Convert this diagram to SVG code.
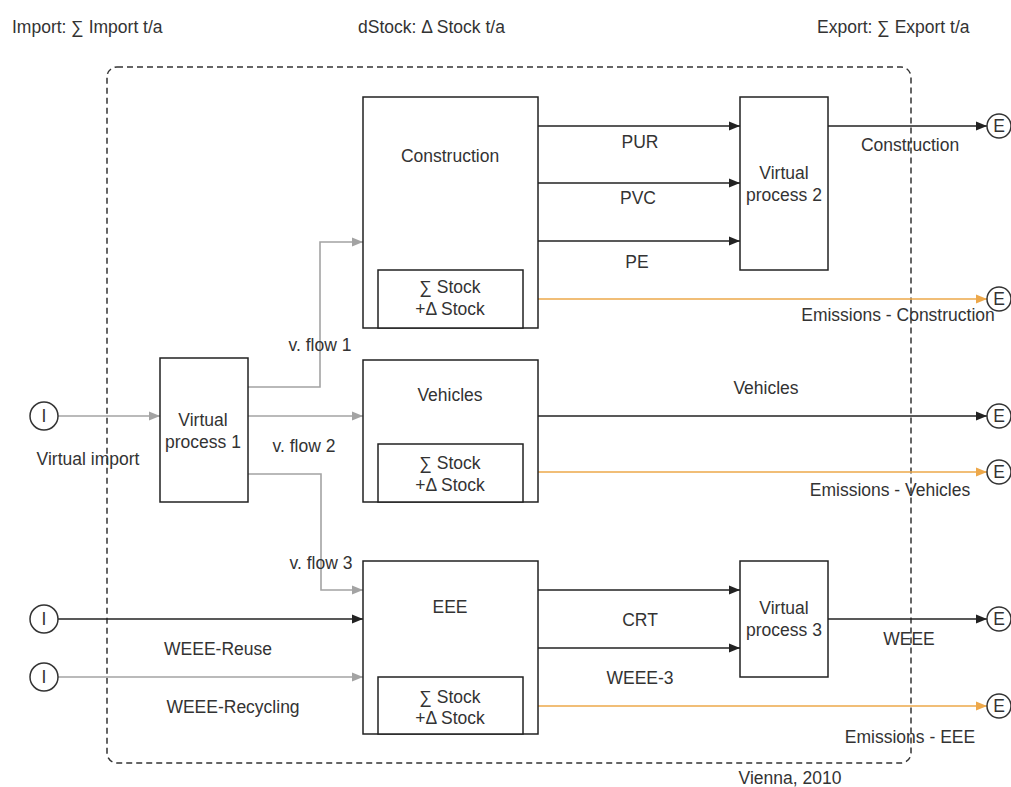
<svg xmlns="http://www.w3.org/2000/svg" width="1011" height="787" viewBox="0 0 1011 787">
  <defs>
    <style>
      text { font-family: "Liberation Sans", Arial, sans-serif; font-size: 17.5px; fill: #333; }
      .c { text-anchor: middle; }
      .box { fill: #fff; stroke: #222; stroke-width: 1.5; }
      .term { fill: #fff; stroke: #333; stroke-width: 1.5; }
      .blk { fill: none; stroke: #222; stroke-width: 1.6; }
      .gry { fill: none; stroke: #a3a3a3; stroke-width: 1.6; }
      .org { fill: none; stroke: #eda84a; stroke-width: 1.6; }
      .border { fill: none; stroke: #333; stroke-width: 1.5; stroke-dasharray: 6 4; }
    </style>
    <marker id="ab" markerUnits="userSpaceOnUse" markerWidth="12" markerHeight="10" refX="11" refY="5" orient="auto">
      <path d="M0,0.5 L11,5 L0,9.5 Z" fill="#222"/>
    </marker>
    <marker id="ag" markerUnits="userSpaceOnUse" markerWidth="12" markerHeight="10" refX="11" refY="5" orient="auto">
      <path d="M0,0.5 L11,5 L0,9.5 Z" fill="#a3a3a3"/>
    </marker>
    <marker id="ao" markerUnits="userSpaceOnUse" markerWidth="12" markerHeight="10" refX="11" refY="5" orient="auto">
      <path d="M0,0.5 L11,5 L0,9.5 Z" fill="#eda84a"/>
    </marker>
  </defs>

  <rect width="1011" height="787" fill="#fff"/>

  <!-- header legend -->
  <g id="header">
    <text x="12" y="33">Import: ∑ Import t/a</text>
    <text x="358" y="33">dStock: Δ Stock t/a</text>
    <text x="817" y="33">Export: ∑ Export t/a</text>
  </g>

  <!-- system boundary -->
  <g id="boundary">
    <rect class="border" x="107" y="67" width="804" height="696" rx="10" ry="10"/>
    <text class="c" x="790" y="784">Vienna, 2010</text>
  </g>

  <!-- flows -->
  <g id="connectors">
    <!-- imports -->
    <line class="gry" x1="58" y1="416" x2="160" y2="416" marker-end="url(#ag)"/>
    <line class="blk" x1="58" y1="619" x2="363" y2="619" marker-end="url(#ab)"/>
    <line class="gry" x1="58" y1="677" x2="363" y2="677" marker-end="url(#ag)"/>
    <!-- virtual flows -->
    <polyline class="gry" points="248,387 320,387 320,242 363,242" marker-end="url(#ag)"/>
    <line class="gry" x1="248" y1="416" x2="363" y2="416" marker-end="url(#ag)"/>
    <polyline class="gry" points="248,474 321,474 321,590 363,590" marker-end="url(#ag)"/>
    <!-- construction -->
    <line class="blk" x1="538" y1="126" x2="740" y2="126" marker-end="url(#ab)"/>
    <line class="blk" x1="538" y1="183" x2="740" y2="183" marker-end="url(#ab)"/>
    <line class="blk" x1="538" y1="241" x2="740" y2="241" marker-end="url(#ab)"/>
    <line class="blk" x1="828" y1="126" x2="987" y2="126" marker-end="url(#ab)"/>
    <line class="org" x1="538" y1="299" x2="987" y2="299" marker-end="url(#ao)"/>
    <!-- vehicles -->
    <line class="blk" x1="538" y1="416" x2="987" y2="416" marker-end="url(#ab)"/>
    <line class="org" x1="538" y1="472" x2="987" y2="472" marker-end="url(#ao)"/>
    <!-- EEE -->
    <line class="blk" x1="538" y1="590" x2="740" y2="590" marker-end="url(#ab)"/>
    <line class="blk" x1="538" y1="648" x2="740" y2="648" marker-end="url(#ab)"/>
    <line class="blk" x1="828" y1="619" x2="987" y2="619" marker-end="url(#ab)"/>
    <line class="org" x1="538" y1="706" x2="987" y2="706" marker-end="url(#ao)"/>
  </g>

  <!-- flow labels -->
  <g id="flow-labels">
    <text class="c" x="88" y="465">Virtual import</text>
    <text class="c" x="218" y="655">WEEE-Reuse</text>
    <text class="c" x="233" y="713">WEEE-Recycling</text>
    <text class="c" x="320" y="351">v. flow 1</text>
    <text class="c" x="304" y="452">v. flow 2</text>
    <text class="c" x="321" y="569">v. flow 3</text>
    <text class="c" x="640" y="148">PUR</text>
    <text class="c" x="638" y="204">PVC</text>
    <text class="c" x="637" y="268">PE</text>
    <text class="c" x="910" y="151">Construction</text>
    <text class="c" x="898" y="321">Emissions - Construction</text>
    <text class="c" x="766" y="394">Vehicles</text>
    <text class="c" x="890" y="496">Emissions - Vehicles</text>
    <text class="c" x="640" y="626">CRT</text>
    <text class="c" x="640" y="684">WEEE-3</text>
    <text class="c" x="909" y="645">WEEE</text>
    <text class="c" x="910" y="743">Emissions - EEE</text>
  </g>

  <!-- import terminals -->
  <g id="import-1"><circle class="term" cx="44" cy="416" r="14"/><text class="c" x="44" y="422">I</text></g>
  <g id="import-2"><circle class="term" cx="44" cy="619" r="14"/><text class="c" x="44" y="625">I</text></g>
  <g id="import-3"><circle class="term" cx="44" cy="677" r="14"/><text class="c" x="44" y="683">I</text></g>

  <!-- export terminals -->
  <g id="export-1"><circle class="term" cx="999" cy="126" r="12"/><text class="c" x="999" y="132">E</text></g>
  <g id="export-2"><circle class="term" cx="999" cy="299" r="12"/><text class="c" x="999" y="305">E</text></g>
  <g id="export-3"><circle class="term" cx="999" cy="416" r="12"/><text class="c" x="999" y="422">E</text></g>
  <g id="export-4"><circle class="term" cx="999" cy="472" r="12"/><text class="c" x="999" y="478">E</text></g>
  <g id="export-5"><circle class="term" cx="999" cy="619" r="12"/><text class="c" x="999" y="625">E</text></g>
  <g id="export-6"><circle class="term" cx="999" cy="706" r="12"/><text class="c" x="999" y="712">E</text></g>

  <!-- processes -->
  <g id="virtual-process-1">
    <rect class="box" x="160" y="358" width="88" height="144"/>
    <text class="c" x="203" y="426">Virtual</text>
    <text class="c" x="203" y="448">process 1</text>
  </g>

  <g id="construction">
    <rect class="box" x="363" y="97" width="175" height="231"/>
    <text class="c" x="450" y="162">Construction</text>
    <rect class="box" x="378" y="270" width="145" height="58"/>
    <text class="c" x="450" y="293">∑ Stock</text>
    <text class="c" x="450" y="315">+Δ Stock</text>
  </g>

  <g id="vehicles">
    <rect class="box" x="363" y="360" width="175" height="142"/>
    <text class="c" x="450" y="401">Vehicles</text>
    <rect class="box" x="378" y="444" width="145" height="58"/>
    <text class="c" x="450" y="469">∑ Stock</text>
    <text class="c" x="450" y="491">+Δ Stock</text>
  </g>

  <g id="eee">
    <rect class="box" x="363" y="561" width="175" height="173"/>
    <text class="c" x="450" y="613">EEE</text>
    <rect class="box" x="378" y="677" width="145" height="57"/>
    <text class="c" x="450" y="703">∑ Stock</text>
    <text class="c" x="450" y="724">+Δ Stock</text>
  </g>

  <g id="virtual-process-2">
    <rect class="box" x="740" y="97" width="88" height="173"/>
    <text class="c" x="784" y="179">Virtual</text>
    <text class="c" x="784" y="201">process 2</text>
  </g>

  <g id="virtual-process-3">
    <rect class="box" x="740" y="561" width="88" height="116"/>
    <text class="c" x="784" y="614">Virtual</text>
    <text class="c" x="784" y="636">process 3</text>
  </g>
</svg>
